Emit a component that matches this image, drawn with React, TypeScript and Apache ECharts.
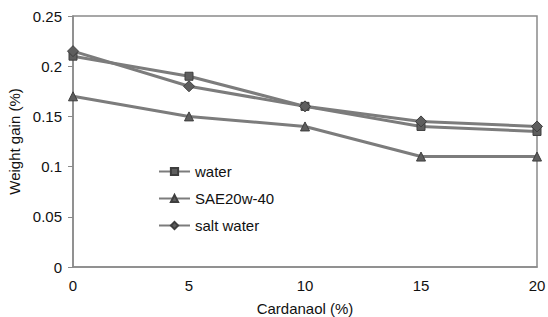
import React, { useEffect, useRef } from "react";
import * as echarts from "echarts";

const xValues = [0, 5, 10, 15, 20];
const water = [0.21, 0.19, 0.16, 0.14, 0.135];
const sae = [0.17, 0.15, 0.14, 0.11, 0.11];
const saltWater = [0.215, 0.18, 0.16, 0.145, 0.14];
const seriesNames = ["water", "SAE20w-40", "salt water"];

const FONT = "Liberation Sans, Arial, sans-serif";

export default function App() {
  const ref = useRef<HTMLDivElement>(null);
  useEffect(() => {
    document.body.style.margin = "0";
    if (!ref.current) return;
    const chart = echarts.init(ref.current, undefined, { renderer: "svg" });
    const pairs = (ys: number[]) => xValues.map((x, i) => [x, ys[i]]);
    const mk = (name: string, ys: number[], symbol: string, size: number) => ({
      name,
      type: "line",
      data: pairs(ys),
      symbol,
      symbolSize: size,
      showAllSymbol: true,
      lineStyle: { color: "#7c7c7c", width: 3 },
      itemStyle: { color: "#5e5e5e", borderColor: "#3e3e3e", borderWidth: 1 },
      z: 3,
    });
    chart.setOption({
      animation: false,
      textStyle: { fontFamily: FONT },
      grid: {
        left: 73,
        right: 11,
        top: 16,
        bottom: 50,
        outerBoundsMode: "none",
        containLabel: false,
        show: true,
        borderColor: "#8a8a8a",
        borderWidth: 1.5,
        backgroundColor: "transparent",
      },
      legend: {
        orient: "vertical",
        left: 153,
        top: 159,
        itemWidth: 31,
        itemHeight: 9,
        itemGap: 12,
        data: seriesNames,
        textStyle: { fontFamily: FONT, fontSize: 15, color: "#111" },
      },
      xAxis: {
        type: "value",
        min: 0,
        max: 20,
        interval: 5,
        name: "Cardanaol (%)",
        nameLocation: "middle",
        nameGap: 34,
        nameTextStyle: { fontFamily: FONT, fontSize: 15, color: "#111" },
        axisLine: { lineStyle: { color: "#8a8a8a", width: 1.5 } },
        axisTick: { show: false },
        splitLine: { show: false },
        axisLabel: { fontFamily: FONT, fontSize: 15, color: "#111", margin: 11 },
      },
      yAxis: {
        type: "value",
        min: 0,
        max: 0.25,
        interval: 0.05,
        name: "Weight gain (%)",
        nameLocation: "middle",
        nameGap: 45,
        nameTextStyle: { fontFamily: FONT, fontSize: 15, color: "#111" },
        axisLine: { show: true, lineStyle: { color: "#8a8a8a", width: 1.5 } },
        axisTick: { show: true, inside: false, length: 5, lineStyle: { color: "#8a8a8a" } },
        splitLine: { show: false },
        axisLabel: { fontFamily: FONT, fontSize: 15, color: "#111", margin: 11 },
      },
      series: [
        mk(seriesNames[0], water, "rect", 8),
        mk(seriesNames[1], sae, "triangle", 9),
        mk(seriesNames[2], saltWater, "diamond", 11),
      ],
    });
    return () => chart.dispose();
  }, []);
  return <div ref={ref} style={{ width: 548, height: 317 }} />;
}
